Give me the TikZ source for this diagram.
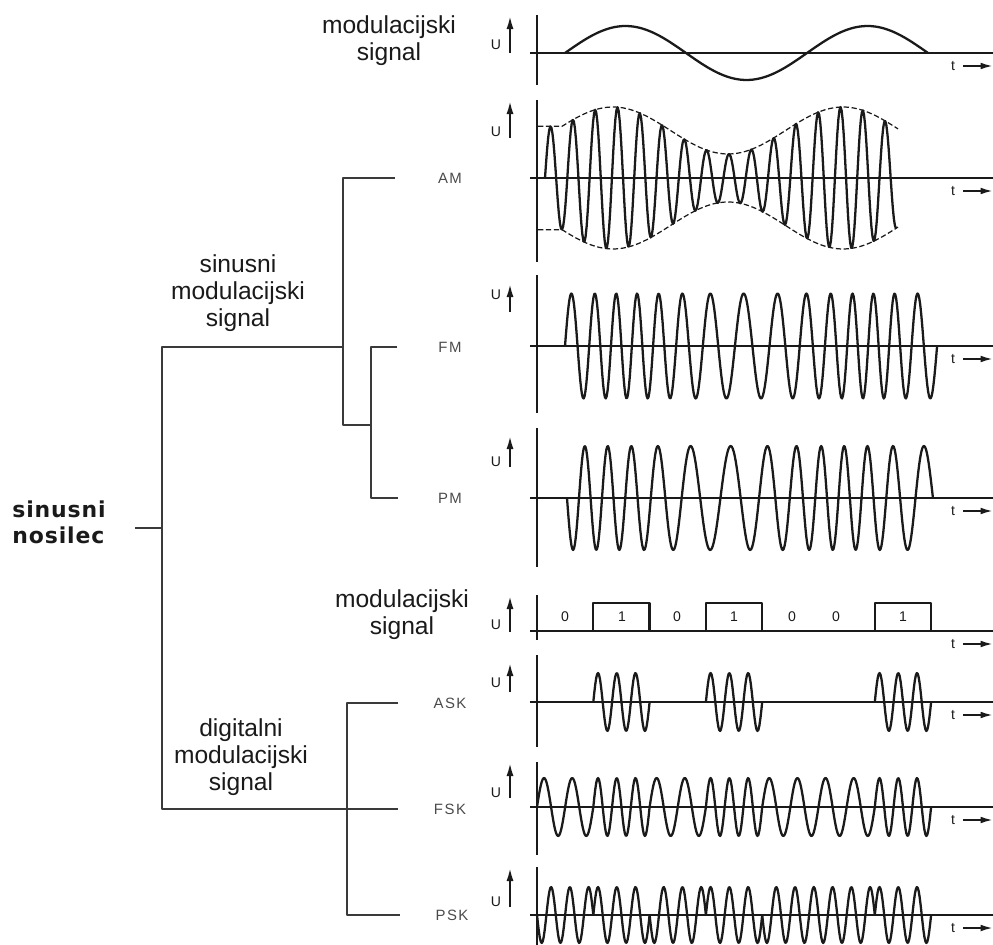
\documentclass[tikz,border=0pt]{standalone}
\usepackage{fontspec}
\setmainfont{Liberation Sans}
\newfontfamily\tagfont[LetterSpace=10]{Liberation Sans}
\newfontfamily\rootfont[LetterSpace=4]{DejaVu Sans}
\usetikzlibrary{arrows.meta}
\definecolor{cink}{HTML}{1A1A1A}
\definecolor{cline}{HTML}{3A3A3A}
\definecolor{ctag}{HTML}{4A4A4A}
\tikzset{
  every picture/.style={line join=round},
  treeline/.style={draw=cline, line width=0.8pt},
  axisline/.style={draw=cink, line width=1.1pt},
  wave/.style={draw=cink, line width=1.3pt},
  envelope/.style={draw=cink, line width=0.7pt, dash pattern=on 3pt off 1.5pt},
  lbl/.style={font=\fontsize{14}{15.5}\selectfont, align=center, text=cink, inner sep=0pt},
  modtag/.style={font=\tagfont\fontsize{8.5}{10}\selectfont, text=ctag, inner sep=0pt},
  axlabel/.style={font=\fontsize{8}{9}\selectfont, text=cink, inner sep=0pt},
  uarrow/.style={-{Latex[length=8pt,width=4pt]}, draw=cink, line width=1.4pt},
  tarrow/.style={-{Latex[length=7pt,width=3.8pt]}, draw=cink, line width=1.1pt},
}
% envelope of the AM signal
\def\amenv{(47.5+23.5*cos((max(\x,562)-613)/230*360))}

\begin{document}
\begin{tikzpicture}[x=0.02cm, y=-0.02cm]
  \useasboundingbox (0,0) rectangle (993,945);
  % tree of modulation kinds
  \node[lbl, font=\rootfont\bfseries\fontsize{12.5}{14.8}\selectfont, align=left, anchor=west] (root) at (12,522) {sinusni\\nosilec};
  \node[lbl] (sinlbl) at (238,293) {sinusni\\modulacijski\\signal};
  \node[lbl] (diglbl) at (241,757) {digitalni\\modulacijski\\signal};
  \node[lbl] (modlbl) at (389,41) {modulacijski\\signal};
  \node[lbl] (dmodlbl) at (402,615) {modulacijski\\signal};
  \node[modtag] (am) at (450,178) {AM};
  \node[modtag] (fm) at (450,347) {FM};
  \node[modtag] (pm) at (450,498) {PM};
  \node[modtag] (ask) at (450,703) {ASK};
  \node[modtag] (fsk) at (450,809) {FSK};
  \node[modtag] (psk) at (452,915) {PSK};
  \coordinate (r) at (135,528);
  \coordinate (j0) at (162,528);
  \coordinate (sa) at (343,347);
  \coordinate (j1) at (343,425);
  \coordinate (j2) at (371,425);
  \coordinate (j3) at (347,809);
  \coordinate (am-e) at (395,178);
  \coordinate (fm-e) at (397,347);
  \coordinate (pm-e) at (398,498);
  \coordinate (ask-e) at (398,703);
  \coordinate (fsk-e) at (398,809);
  \coordinate (psk-e) at (400,915);
  \draw[treeline] (r) -- (j0);
  \draw[treeline] (sa) -| (j0) |- (fsk-e);
  \draw[treeline] (am-e) -| (j1) -- (j2);
  \draw[treeline] (fm-e) -| (j2) |- (pm-e);
  \draw[treeline] (ask-e) -| (j3) |- (psk-e);
  % axes of the signal panels
  \foreach \n/\ya/\vt/\vb/\uy/\ab/\at in {mod/53/15/85/45/53/15, am/178/100/262/132/138/100,
      fm/346/275/413/295/312/283, pm/498/428/567/462/467/435, dig/631/595/640/625/632/595,
      ask/702/655/747/683/692/662, fsk/807/762/855/793/798/762, psk/915/867/945/902/907/867}{
    \draw[axisline] (537,\vt) -- (537,\vb);
    \draw[axisline] (530,\ya) -- (993,\ya);
    \node[axlabel] (u\n) at (496,\uy) {U};
    \draw[uarrow] (510,\ab) -- (510,\at);
    \node[axlabel] (t\n) at (953,\ya+13) {t};
    \draw[tarrow] (963,\ya+13) -- (993,\ya+13);
  }
  % sine modulating signal
  \draw[wave] plot[domain=565:928, samples=90, smooth] (\x,{53-27*sin((\x-565)/242*360)});
  % AM
  \draw[envelope] plot[domain=538:898, samples=90] (\x,{178-\amenv});
  \draw[envelope] plot[domain=538:898, samples=90] (\x,{178+\amenv});
  \draw[wave] plot[domain=545:896, samples=330] (\x,{178-\amenv*sin((\x-545)/22.3*360)});
  % FM
  \draw[wave] plot[domain=565:937, samples=420] (\x,{346-52.5*sin(360*(0.03832*(\x-565)+0.377*(1-cos((\x-565)/242*360))))});
  % PM
  \draw[wave] plot[domain=567:933, samples=420] (\x,{498+52*sin(360*(0.03405*(\x-567)+0.377*(sin((\x-599)/242*360)+0.739)))});
  % digital modulating signal
  \foreach \a/\b in {593.3/649.6, 705.9/762.2, 874.8/931.1}
    \draw[wave] (\a,631) |- (\b,603) -- (\b,631);
  \foreach \x/\b in {565/0, 622/1, 677/0, 734/1, 792/0, 836/0, 903/1}
    \node[axlabel] (bit\x) at (\x,617) {\b};
  % ASK
  \foreach \a/\b in {593.3/649.6, 705.9/762.2, 874.8/931.1}
    \draw[wave] plot[domain=\a:\b, samples=60] (\x,{702-29*sin((\x-\a)/56.3*1080)});
  % FSK
  \foreach \a/\b/\n in {537/593.3/2, 593.3/649.6/3, 649.6/705.9/2, 705.9/762.2/3,
      762.2/818.5/2, 818.5/874.8/2, 874.8/931.1/3}
    \draw[wave] plot[domain=\a:\b, samples=60] (\x,{807-29*sin((\x-\a)/56.3*360*\n)});
  % PSK
  \foreach \a/\b/\s in {537/593.3/1, 593.3/649.6/-1, 649.6/705.9/1, 705.9/762.2/-1,
      762.2/818.5/1, 818.5/874.8/1, 874.8/931.1/-1}
    \draw[wave] plot[domain=\a:\b, samples=60] (\x,{915+(\s)*28*sin((\x-\a)/56.3*1080)});
\end{tikzpicture}
\end{document}
